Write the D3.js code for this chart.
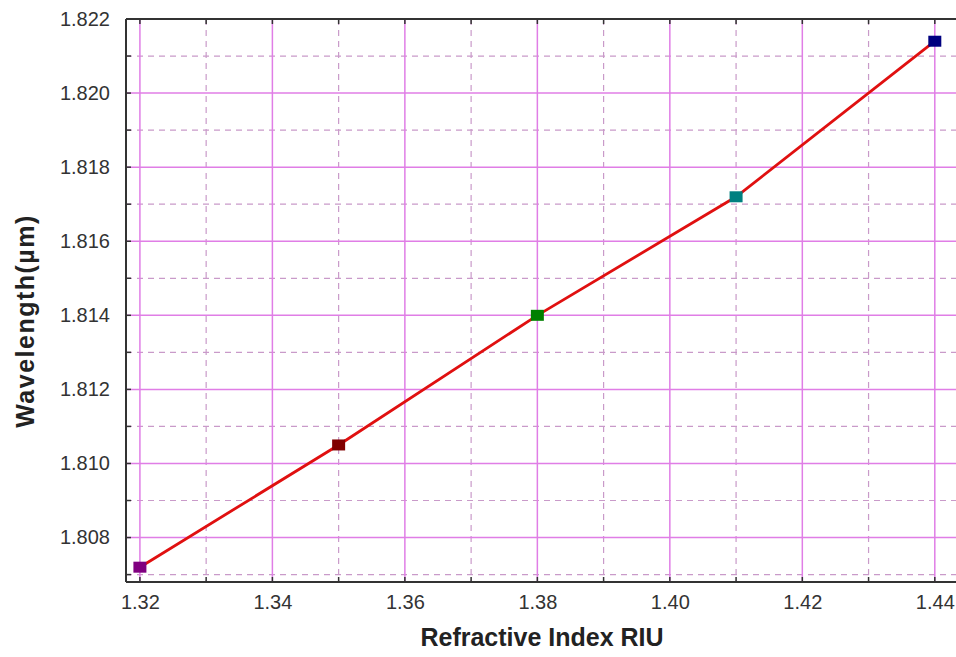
<!DOCTYPE html>
<html><head><meta charset="utf-8">
<script src="https://cdn.jsdelivr.net/npm/d3@7"></script>
<style>body{margin:0;background:#fff}svg{display:block}</style>
</head><body>
<svg id="c" width="956" height="657"></svg>
<script>
const xValues = [1.32, 1.35, 1.38, 1.41, 1.44];
const yValues = [1.8072, 1.8105, 1.8140, 1.8172, 1.8214];
const markerColors = ["#800080", "#800000", "#008000", "#008080", "#000080"];
const xTicks = [1.32, 1.34, 1.36, 1.38, 1.40, 1.42, 1.44];
const xMinor = [1.33, 1.35, 1.37, 1.39, 1.41, 1.43];
const yTicks = [1.808, 1.810, 1.812, 1.814, 1.816, 1.818, 1.820, 1.822];
const yMinor = [1.807, 1.809, 1.811, 1.813, 1.815, 1.817, 1.819, 1.821];

const svg = d3.select("#c");
const L = 126, R = 956, T = 19, B = 582;
const x = d3.scaleLinear().domain([1.3179, 1.4432]).range([L, R]);
const y = d3.scaleLinear().domain([1.8068, 1.822]).range([B, T]);
const FONT = "Arial, 'Liberation Sans', sans-serif";

const g = svg.append("g");
// minor dashed grid
g.selectAll(".vminor").data(xMinor).enter().append("line")
  .attr("x1", d => x(d)).attr("x2", d => x(d)).attr("y1", T).attr("y2", B)
  .attr("stroke", "#c99ac9").attr("stroke-width", 1.2).attr("stroke-dasharray", "6,5");
g.selectAll(".hminor").data(yMinor).enter().append("line")
  .attr("y1", d => y(d)).attr("y2", d => y(d)).attr("x1", L).attr("x2", R)
  .attr("stroke", "#c99ac9").attr("stroke-width", 1.2).attr("stroke-dasharray", "6,5");
// major solid grid
g.selectAll(".vmajor").data(xTicks).enter().append("line")
  .attr("x1", d => x(d)).attr("x2", d => x(d)).attr("y1", T).attr("y2", B)
  .attr("stroke", "#e07ee6").attr("stroke-width", 1.5);
g.selectAll(".hmajor").data(yTicks.filter(d => d < 1.822)).enter().append("line")
  .attr("y1", d => y(d)).attr("y2", d => y(d)).attr("x1", L).attr("x2", R)
  .attr("stroke", "#e07ee6").attr("stroke-width", 1.5);

// axes
const allX = xTicks.concat(xMinor);
const allY = yTicks.concat(yMinor);
const xAxis = d3.axisBottom(x).tickValues(xTicks).tickFormat(d3.format(".2f")).tickSize(0).tickPadding(13);
const yAxis = d3.axisLeft(y).tickValues(yTicks).tickFormat(d3.format(".3f")).tickSize(0).tickPadding(16);
const xa = svg.append("g").attr("transform", `translate(0,${B})`).call(xAxis);
const ya = svg.append("g").attr("transform", `translate(${L},0)`).call(yAxis);
[xa, ya].forEach(a => {
  a.select(".domain").remove();
  a.selectAll("text").attr("font-family", FONT)
    .attr("font-size", 20).attr("fill", "#333");
});
// inward ticks
svg.selectAll(".bt").data(allX).enter().append("line")
  .attr("x1", d => x(d)).attr("x2", d => x(d)).attr("y1", B).attr("y2", B - 5)
  .attr("stroke", "#333").attr("stroke-width", 1.5);
svg.selectAll(".tt").data(allX).enter().append("line")
  .attr("x1", d => x(d)).attr("x2", d => x(d)).attr("y1", T).attr("y2", T + 5)
  .attr("stroke", "#333").attr("stroke-width", 1.5);
svg.selectAll(".lt").data(allY).enter().append("line")
  .attr("y1", d => y(d)).attr("y2", d => y(d)).attr("x1", L).attr("x2", L + 5)
  .attr("stroke", "#333").attr("stroke-width", 1.5);
// frame
svg.append("line").attr("x1", L).attr("x2", R).attr("y1", B).attr("y2", B).attr("stroke", "#333").attr("stroke-width", 2);
svg.append("line").attr("x1", L).attr("x2", R).attr("y1", T).attr("y2", T).attr("stroke", "#333").attr("stroke-width", 2);
svg.append("line").attr("x1", L).attr("x2", L).attr("y1", T).attr("y2", B).attr("stroke", "#333").attr("stroke-width", 2);

// data line
const pts = xValues.map((v, i) => [v, yValues[i]]);
svg.append("path").datum(pts)
  .attr("d", d3.line().x(d => x(d[0])).y(d => y(d[1])))
  .attr("fill", "none").attr("stroke", "#e01010").attr("stroke-width", 2.8);
// markers
svg.selectAll(".m").data(pts).enter().append("rect")
  .attr("x", d => x(d[0]) - 6.5).attr("y", d => y(d[1]) - 5.5)
  .attr("width", 13).attr("height", 11)
  .attr("fill", (d, i) => markerColors[i]);

// titles
svg.append("text").attr("x", 542).attr("y", 646).attr("text-anchor", "middle")
  .attr("font-family", FONT).attr("font-weight", "bold")
  .attr("font-size", 25).attr("fill", "#222").text("Refractive Index RIU");
svg.append("text").attr("transform", "translate(34,321) rotate(-90)").attr("text-anchor", "middle")
  .attr("font-family", FONT).attr("font-weight", "bold").attr("letter-spacing", 1.5)
  .attr("font-size", 25).attr("fill", "#222").text("Wavelength(µm)");
</script>
</body></html>
